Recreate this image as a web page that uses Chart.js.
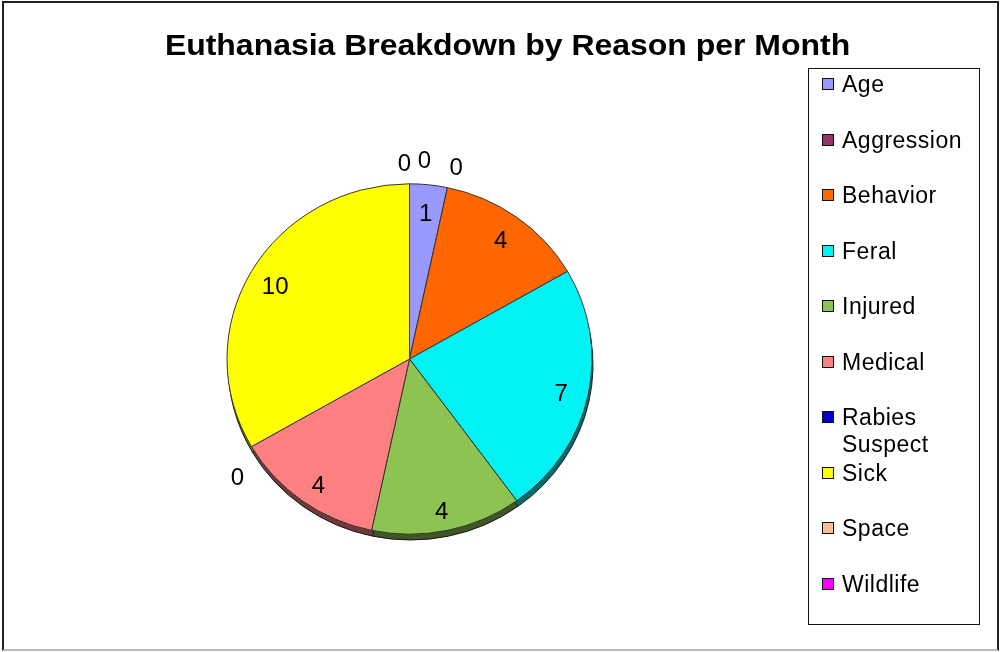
<!DOCTYPE html>
<html>
<head>
<meta charset="utf-8">
<script src="https://cdn.jsdelivr.net/npm/chart.js@4.4.1/dist/chart.umd.min.js"></script>
<style>
  html, body { margin: 0; padding: 0; background: #fff; }
  #wrap { position: relative; width: 1002px; height: 652px; overflow: hidden; font-family: "Liberation Sans", Arial, sans-serif; }
  #frame { position: absolute; left: 2px; top: 1px; width: 993px; height: 646px; border: 2px solid #222; border-bottom-color: #bbb; }
  #title { position: absolute; left: 0; width: 1015px; top: 27px; text-align: center; font-weight: bold; font-size: 30px; line-height: 36px; color: #000; transform: scaleX(1.065); transform-origin: 507px 0; }
  #legend { position: absolute; left: 808px; top: 68px; width: 172px; height: 557px; border: 1.5px solid #111; box-sizing: border-box; }
  .item { position: absolute; left: 0; font-size: 23px; line-height: 27px; letter-spacing: 0.5px; color: #000; }
  .item .sw { position: absolute; left: 13px; top: 7px; width: 10px; height: 10px; border: 1.5px solid #111; }
  .item .tx { position: absolute; left: 33px; top: 0; white-space: nowrap; }
  canvas { position: absolute; left: 0; top: 0; }
</style>
</head>
<body>
<div id="wrap">
  <div id="frame"></div>
  <canvas id="pie" width="1002" height="652"></canvas>
  <div id="title">Euthanasia Breakdown by Reason per Month</div>
  <div id="legend"></div>
</div>
<script>
const categories = ['Age', 'Aggression', 'Behavior', 'Feral', 'Injured', 'Medical', 'Rabies Suspect', 'Sick', 'Space', 'Wildlife'];
const legendLines = [['Age'], ['Aggression'], ['Behavior'], ['Feral'], ['Injured'], ['Medical'], ['Rabies', 'Suspect'], ['Sick'], ['Space'], ['Wildlife']];
const counts = [1, 0, 4, 7, 4, 4, 0, 10, 0, 0];
const colors = ['#9999FF', '#993366', '#FF6600', '#00F2F2', '#8DC350', '#FF8080', '#0000CC', '#FFFF00', '#F6BF94', '#FF00FF'];

const squash = 0.96;   // slight tilt of the pie

function tilt(ctx, chart) {
  const arc = chart.getDatasetMeta(0).data[0];
  ctx.translate(arc.x, arc.y);
  ctx.scale(1, squash);
  ctx.translate(-arc.x, -arc.y);
}

const depthPlugin = {
  id: 'depth',
  beforeDatasetsDraw(chart) {
    const ctx = chart.ctx;
    ctx.save();
    tilt(ctx, chart);
    ctx.save();
    ctx.translate(1, 6);
    ctx.filter = 'brightness(0.45)';
    chart.getDatasetMeta(0).data.forEach(a => a.draw(ctx));
    ctx.restore();
  },
  afterDatasetsDraw(chart) {
    chart.ctx.restore();
  }
};

const valueLabels = {
  id: 'valueLabels',
  afterDraw(chart) {
    const ctx = chart.ctx;
    const meta = chart.getDatasetMeta(0);
    ctx.save();
    ctx.font = '24px "Liberation Sans", Arial, sans-serif';
    ctx.fillStyle = '#000';
    ctx.textAlign = 'center';
    ctx.textBaseline = 'middle';
    const zeroGroups = {};
    meta.data.forEach((a, i) => {
      if (counts[i] === 0) {
        const key = a.endAngle.toFixed(3);
        (zeroGroups[key] = zeroGroups[key] || []).push(i);
      }
    });
    meta.data.forEach((a, i) => {
      const mid = (a.startAngle + a.endAngle) / 2;
      const c = Math.cos(mid), s = Math.sin(mid);
      let x, y;
      if (counts[i] === 0) {
        // outside label, box corner anchored just past the rim
        const r = a.outerRadius + 8;
        const g = zeroGroups[a.endAngle.toFixed(3)];
        const k = g.indexOf(i);
        const dx = (k - (g.length - 1) / 2) * 20 + (g.length > 1 ? 5 : 0);
        x = a.x + c * r + Math.sign(Math.round(c * 10)) * 7 + dx;
        y = a.y + s * r * squash + (s > 0.2 ? 28 : -12) - (dx > 0 ? 3 : 0);
      } else {
        const r = a.outerRadius * 0.85;
        x = a.x + c * r;
        y = a.y + s * r * squash + 3 + 5 * Math.max(0, s);
      }
      ctx.fillText(String(counts[i]), x, y);
    });
    ctx.restore();
  }
};

new Chart(document.getElementById('pie'), {
  type: 'pie',
  data: {
    labels: categories,
    datasets: [{
      data: counts,
      backgroundColor: colors,
      borderColor: '#333',
      borderWidth: 1
    }]
  },
  options: {
    responsive: false,
    devicePixelRatio: 1,
    animation: false,
    layout: { padding: { left: 226, right: 409, top: 176, bottom: 110 } },
    plugins: { legend: { display: false }, tooltip: { enabled: false } }
  },
  plugins: [depthPlugin, valueLabels]
});

// legend box
const legend = document.getElementById('legend');
legendLines.forEach((lines, i) => {
  const el = document.createElement('div');
  el.className = 'item';
  el.style.top = (15 + i * 55.5 - 13) + 'px';
  el.innerHTML = '<div class="sw" style="background:' + colors[i] + '"></div>' +
    '<div class="tx">' + lines.join('<br>') + '</div>';
  legend.appendChild(el);
});
</script>
</body>
</html>
